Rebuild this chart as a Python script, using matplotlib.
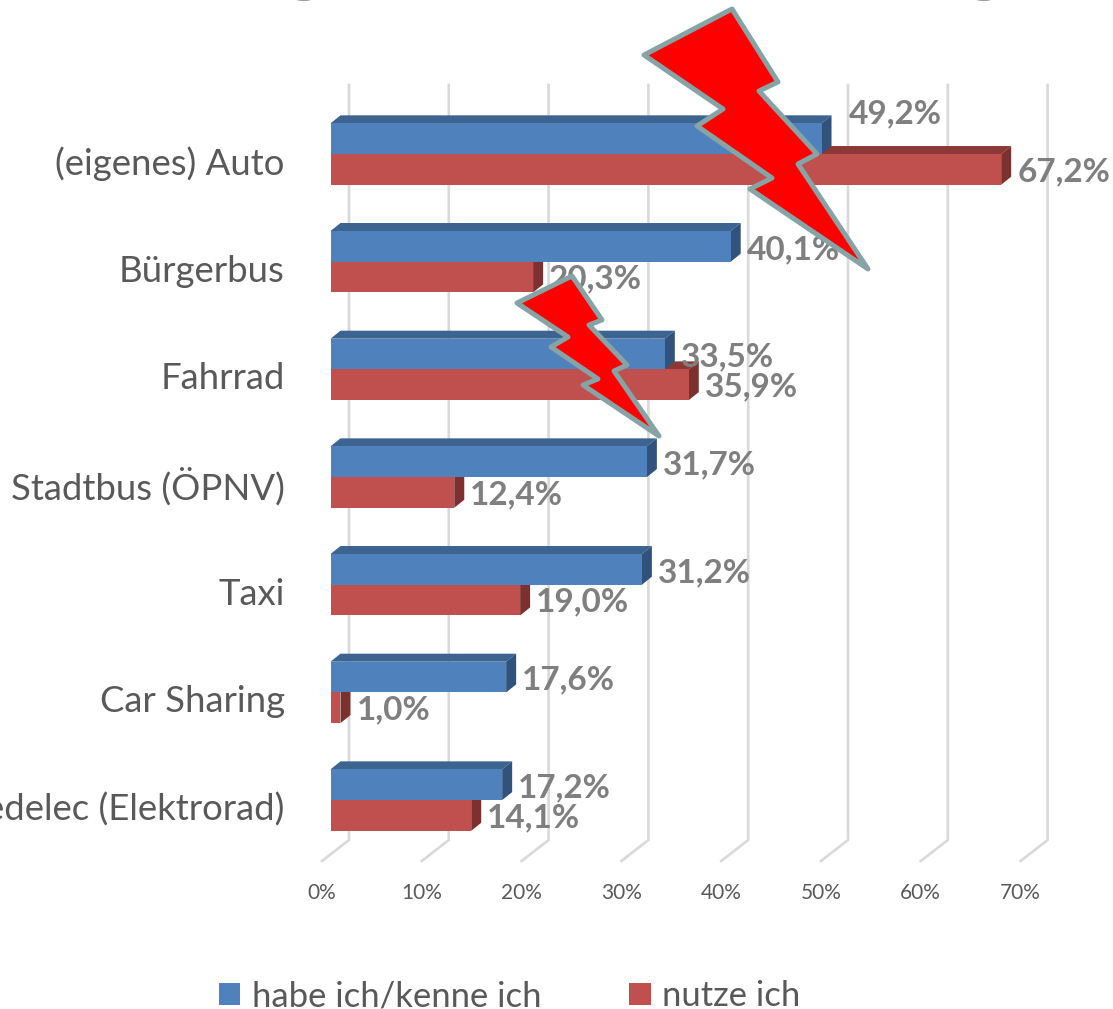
import matplotlib
matplotlib.use("Agg")
import matplotlib.pyplot as plt
from matplotlib.patches import Patch, Polygon
from matplotlib.transforms import Affine2D, IdentityTransform

plt.rcParams['font.family'] = ['Lato', 'DejaVu Sans']

categories = ["(eigenes) Auto", "Bürgerbus", "Fahrrad", "Stadtbus (ÖPNV)", "Taxi",
              "Car Sharing", "Pedelec (Elektrorad)"]
have_values = [49.2, 40.1, 33.5, 31.7, 31.2, 17.6, 17.2]
use_values = [67.2, 20.3, 35.9, 12.4, 19.0, 1.0, 14.1]
have_labels = ["49,2%", "40,1%", "33,5%", "31,7%", "31,2%", "17,6%", "17,2%"]
use_labels = ["67,2%", "20,3%", "35,9%", "12,4%", "19,0%", "1,0%", "14,1%"]
x_ticks = [0, 10, 20, 30, 40, 50, 60, 70]
x_tick_labels = ["0%", "10%", "20%", "30%", "40%", "50%", "60%", "70%"]
series_names = ["habe ich/kenne ich", "nutze ich"]

big_bolt = [(732, 9), (778, 82), (759, 91), (817, 154), (798, 164), (868, 269),
            (750, 189), (772, 178), (697, 126), (723, 109), (644, 55)]
small_bolt = [(572, 276), (602, 320), (589, 325), (627, 365), (614, 371), (659, 436),
              (583, 385), (598, 379), (551, 347), (568, 337), (517, 303)]

W, H = 1113, 1009
LEFT, RIGHT, TOP, BOTTOM = 330.5, 1029.1, 100.2, 853.9
BLUE, BLUE_TOP, BLUE_SIDE = "#4f81bd", "#3d6491", "#30527c"
RED, RED_TOP, RED_SIDE = "#c0504d", "#8c3836", "#7c3130"
GRID = "#d9d9d9"
TEXT = "#595959"
LABEL = "#7f7f7f"

fig = plt.figure(figsize=(W / 100, H / 100), dpi=100, facecolor="white")
ax = fig.add_axes([LEFT / W, 1 - BOTTOM / H, (RIGHT - LEFT) / W, (BOTTOM - TOP) / H])
ax.set_xlim(0, 70)
ax.set_ylim(6.5, -0.5)
for s in ax.spines.values():
    s.set_visible(False)
ax.patch.set_visible(False)

px_x = 70 / (RIGHT - LEFT)
px_y = 7 / (BOTTOM - TOP)
bar_h = 30.7 * px_y
ddx, ddy = 10 * px_x, 8 * px_y

# back-wall gridlines with their floor segment
for t in x_ticks:
    bx = t + 18.5 * px_x
    fx = t - 8.5 * px_x
    ax.plot([bx, bx, fx], [(85 - TOP) * px_y - 0.5, (840 - TOP) * px_y - 0.5, (861 - TOP) * px_y - 0.5],
            color=GRID, lw=1.9, clip_on=False, zorder=1, solid_joinstyle="miter")

def box(v, y0, top, side, z):
    ax.add_patch(Polygon([(0, y0), (ddx, y0 - ddy), (v + ddx, y0 - ddy), (v, y0)],
                         facecolor=top, edgecolor="none", zorder=z, clip_on=False))
    ax.add_patch(Polygon([(v, y0), (v + ddx, y0 - ddy), (v + ddx, y0 + bar_h - ddy), (v, y0 + bar_h)],
                         facecolor=side, edgecolor="none", zorder=z, clip_on=False))

ys = list(range(len(categories)))
for i in reversed(ys):
    box(use_values[i], i, RED_TOP, RED_SIDE, 2 + (6 - i) * 0.1)
    ax.barh(i + bar_h / 2, use_values[i], height=bar_h, color=RED, zorder=2.05 + (6 - i) * 0.1)
    box(have_values[i], i - bar_h, BLUE_TOP, BLUE_SIDE, 2.07 + (6 - i) * 0.1)
    ax.barh(i - bar_h / 2, have_values[i], height=bar_h, color=BLUE, zorder=2.08 + (6 - i) * 0.1)

# data labels
for i in ys:
    hy = 25 if i == 0 else -3
    hx = 27 if i == 0 else 16
    ax.annotate(have_labels[i], (have_values[i], i - bar_h / 2), xytext=(hx, hy), textcoords="offset pixels",
                ha="left", va="center", color=LABEL, fontsize=24, fontweight="bold", zorder=5,
                annotation_clip=False)
    ax.annotate(use_labels[i], (use_values[i], i + bar_h / 2), xytext=(16, -2), textcoords="offset pixels",
                ha="left", va="center", color=LABEL, fontsize=24, fontweight="bold", zorder=5,
                annotation_clip=False)

# axes ticks
ax.set_xticks(x_ticks)
ax.set_xticklabels(x_tick_labels, fontsize=15, color=TEXT)
ax.tick_params(axis="x", length=0, pad=21)
for lab in ax.get_xticklabels():
    lab.set_transform(lab.get_transform() + Affine2D().translate(-8.5, 0))
ax.set_yticks(ys)
ax.set_yticklabels(categories, fontsize=26.3, color=TEXT)
ax.tick_params(axis="y", length=0, pad=33)
for lab in ax.get_yticklabels():
    lab.set_transform(lab.get_transform() + Affine2D().translate(0, -6.5))

# lightning bolts
for bolt in (big_bolt, small_bolt):
    pts = [(x, H - y) for x, y in bolt]
    fig.add_artist(Polygon(pts, closed=True, facecolor="#ff0000", edgecolor="#86a3a5", lw=3.6,
                           joinstyle="round", transform=IdentityTransform(), zorder=10))

# descenders of the title cropped by the top edge
for px in (305, 985):
    fig.text(px / W, 1 + 15 / H, "g", ha="center", va="baseline", fontsize=60, fontweight="bold", color=LABEL)

fig.legend(handles=[Patch(facecolor=BLUE, label=series_names[0]), Patch(facecolor=RED, label=series_names[1])],
           loc="center", bbox_to_anchor=(509.5 / W, 1 - 996 / H), ncol=2, frameon=False, fontsize=24.9,
           labelcolor=TEXT, handlelength=0.62, handleheight=0.6, handletextpad=0.32, columnspacing=2.55,
           borderpad=0, borderaxespad=0)

fig.savefig("out.png", dpi=100)
